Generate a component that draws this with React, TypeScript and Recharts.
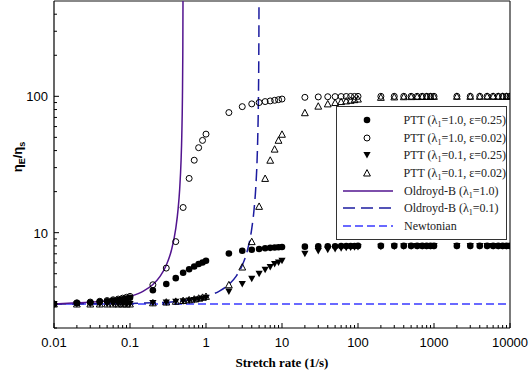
import {
  ComposedChart,
  Scatter,
  Line,
  XAxis,
  YAxis,
  ReferenceLine,
} from "recharts";

// stretch rates (1/s) where the PTT points sit
const rates = [
  0.01, 0.02, 0.03, 0.04, 0.05, 0.06, 0.07, 0.08, 0.09,
  0.1, 0.2, 0.3, 0.4, 0.5, 0.6, 0.7, 0.8, 0.9,
  1, 2, 3, 4, 5, 6, 7, 8, 9,
  10, 20, 30, 40, 50, 60, 70, 80, 90,
  100, 200, 300, 400, 500, 600, 700, 800, 900,
  1000, 2000, 3000, 4000, 5000, 6000, 7000, 8000, 9000,
  10000,
];

// PTT (λ1=1.0, ε=0.25) - filled circles
const pttA = [
  3.0, 3.05, 3.08, 3.11, 3.14, 3.18, 3.21, 3.25, 3.29,
  3.33, 3.78, 4.2, 4.64, 5.08, 5.4, 5.65, 5.89, 6.05,
  6.22, 7.04, 7.37, 7.5, 7.6, 7.68, 7.74, 7.78, 7.82,
  7.85, 7.9, 7.93, 7.95, 7.96, 7.97, 7.98, 7.98, 7.99,
  8.0, 8.0, 8.0, 8.0, 8.0, 8.0, 8.0, 8.0, 8.0,
  8.0, 8.0, 8.0, 8.0, 8.0, 8.0, 8.0, 8.0, 8.0,
  8.0,
];

// PTT (λ1=1.0, ε=0.02) - open circles
const pttB = [
  3.0, 3.06, 3.1, 3.14, 3.18, 3.22, 3.26, 3.31, 3.36,
  3.41, 4.15, 5.5, 8.6, 15.3, 25, 34, 42, 47.5,
  52.8, 76, 84, 88, 90, 91.5, 92.5, 93.5, 94.5,
  95.5, 98.3, 99, 99.3, 99.5, 99.6, 99.7, 99.8, 99.8,
  99.9, 100, 100, 100, 100, 100, 100, 100, 100,
  100, 100, 100, 100, 100, 100, 100, 100, 100,
  100,
];

// PTT (λ1=0.1, ε=0.25) - filled down triangles
const pttC = [
  3.0, 3.0, 3.0, 3.0, 3.0, 3.0, 3.0, 3.0, 3.0,
  3.0, 3.05, 3.08, 3.11, 3.14, 3.18, 3.21, 3.25, 3.29,
  3.33, 3.7, 4.2, 4.6, 5.0, 5.35, 5.6, 5.9, 6.05,
  6.22, 7.0, 7.35, 7.5, 7.6, 7.68, 7.74, 7.78, 7.82,
  7.85, 7.9, 7.93, 7.95, 7.96, 7.97, 7.98, 7.98, 7.99,
  8.0, 8.0, 8.0, 8.0, 8.0, 8.0, 8.0, 8.0, 8.0,
  8.0,
];

// PTT (λ1=0.1, ε=0.02) - open up triangles
const pttD = [
  3.0, 3.0, 3.0, 3.0, 3.0, 3.0, 3.0, 3.0, 3.0,
  3.0, 3.06, 3.1, 3.14, 3.18, 3.22, 3.26, 3.31, 3.36,
  3.41, 4.15, 5.6, 8.6, 15.6, 25, 34, 41, 47.6,
  52.7, 75.8, 84.7, 88, 90, 91.5, 92.5, 93.5, 94.5,
  95.5, 98.3, 99, 99.3, 99.5, 99.6, 99.7, 99.8, 99.8,
  99.9, 100, 100, 100, 100, 100, 100, 100, 100,
  100,
];

// Oldroyd-B (λ1=1.0) curve
const obAx = [0.01, 0.02, 0.05, 0.1, 0.15, 0.2, 0.25, 0.3, 0.35, 0.4, 0.43, 0.45, 0.47, 0.48, 0.49, 0.495, 0.498, 0.4995];
const obAy = [3.0, 3.06, 3.17, 3.41, 3.73, 4.17, 4.8, 5.77, 7.4, 10.7, 15, 20.7, 34, 51, 101, 200, 500, 2000];

// Oldroyd-B (λ1=0.1) curve
const obBx = [0.01, 0.1, 0.2, 0.5, 1, 1.5, 2, 2.5, 3, 3.5, 4, 4.3, 4.5, 4.7, 4.8, 4.9, 4.95, 4.98, 4.995];
const obBy = [3.0, 3.03, 3.06, 3.17, 3.41, 3.73, 4.17, 4.8, 5.77, 7.4, 10.7, 15, 20.7, 34, 51, 101, 200, 500, 2000];

// Newtonian
const newtX = [0.01, 10000];
const newtY = [3, 3];

const xMajor = [0.01, 0.1, 1, 10, 100, 1000, 10000];
const xTicks = rates;
const yMajor = [10, 100];
const yTicks = [2, 3, 4, 5, 6, 7, 8, 9, 10, 20, 30, 40, 50, 60, 70, 80, 90, 100, 200, 300, 400];

const zip = (xs: number[], ys: number[]) => xs.map((x, i) => ({ x, y: ys[i] }));

const PURPLE = "#52148f";
const NAVY = "#1c1ca0";
const BLUE = "#3838ff";
const SANS = "'Liberation Sans', Arial, sans-serif";
const SERIF = "'Liberation Serif', 'Times New Roman', serif";

const FilledCircle = ({ cx, cy }: any) => <circle cx={cx} cy={cy} r={3.3} fill="#000" />;
const OpenCircle = ({ cx, cy }: any) => (
  <circle cx={cx} cy={cy} r={3} fill="none" stroke="#000" strokeWidth={1} />
);
const DownTri = ({ cx, cy }: any) => (
  <path d={`M${cx - 3.6},${cy - 3} L${cx + 3.6},${cy - 3} L${cx},${cy + 3.5} Z`} fill="#000" />
);
const UpTri = ({ cx, cy }: any) => (
  <path
    d={`M${cx - 3.4},${cy + 3} L${cx + 3.4},${cy + 3} L${cx},${cy - 3.4} Z`}
    fill="none"
    stroke="#000"
    strokeWidth={1}
  />
);

const XTick = ({ x, y, payload }: any) => {
  const major = xMajor.includes(payload.value);
  return (
    <g>
      <line x1={x} x2={x} y1={y} y2={y - (major ? 5 : 3)} stroke="#000" />
      {major && (
        <text x={x} y={y + 19} textAnchor="middle" fontFamily={SANS} fontSize={13} fill="#000">
          {String(payload.value)}
        </text>
      )}
    </g>
  );
};

const YTick = ({ x, y, payload }: any) => {
  const major = yMajor.includes(payload.value);
  return (
    <g>
      <line x1={x} x2={x + (major ? 5 : 3)} y1={y} y2={y} stroke="#000" />
      {major && (
        <text x={x - 6} y={y + 5} textAnchor="end" fontFamily={SANS} fontSize={13} fill="#000">
          {String(payload.value)}
        </text>
      )}
    </g>
  );
};

const XTitle = ({ viewBox }: any) => (
  <text
    x={viewBox.x + viewBox.width / 2}
    y={367}
    textAnchor="middle"
    fontFamily={SERIF}
    fontWeight="bold"
    fontSize={13}
    fill="#000"
  >
    Stretch rate (1/s)
  </text>
);

const YTitle = () => (
  <text
    x={22}
    y={157}
    transform="rotate(-90 22 157)"
    textAnchor="middle"
    fontFamily={SANS}
    fontWeight="bold"
    fontSize={13}
    fill="#000"
  >
    η<tspan dy={3} fontSize={9}>E</tspan>
    <tspan dy={-3}>/η</tspan>
    <tspan dy={3} fontSize={9}>s</tspan>
  </text>
);

const legendRows = [
  { kind: "fc", label: ["PTT (λ", "1", "=1.0, ε=0.25)"] },
  { kind: "oc", label: ["PTT (λ", "1", "=1.0, ε=0.02)"] },
  { kind: "dt", label: ["PTT (λ", "1", "=0.1, ε=0.25)"] },
  { kind: "ut", label: ["PTT (λ", "1", "=0.1, ε=0.02)"] },
  { kind: "l1", label: ["Oldroyd-B (λ", "1", "=1.0)"] },
  { kind: "l2", label: ["Oldroyd-B (λ", "1", "=0.1)"] },
  { kind: "nw", label: ["Newtonian", "", ""] },
];

const LegendMark = ({ kind }: { kind: string }) => (
  <svg width={54} height={12} style={{ display: "block" }}>
    {kind === "fc" && <FilledCircle cx={26} cy={6} />}
    {kind === "oc" && <OpenCircle cx={26} cy={6} />}
    {kind === "dt" && <DownTri cx={26} cy={6} />}
    {kind === "ut" && <UpTri cx={26} cy={6} />}
    {kind === "l1" && <line x1={2} x2={52} y1={6} y2={6} stroke={PURPLE} strokeWidth={1.5} />}
    {kind === "l2" && (
      <line x1={2} x2={52} y1={6} y2={6} stroke={NAVY} strokeWidth={1.5} strokeDasharray="12 6" />
    )}
    {kind === "nw" && (
      <line x1={2} x2={52} y1={6} y2={6} stroke={BLUE} strokeWidth={1.5} strokeDasharray="8 4" />
    )}
  </svg>
);

export default function App() {
  return (
    <div style={{ position: "absolute", left: 0, top: 0, width: 531, height: 374, background: "#fff" }}>
      <ComposedChart width={531} height={374} margin={{ top: 1, right: 21, left: 0, bottom: 0 }}>
        <XAxis
          dataKey="x"
          type="number"
          scale="log"
          domain={[0.01, 10000]}
          allowDataOverflow
          ticks={xTicks}
          interval={0}
          tick={<XTick />}
          tickLine={false}
          tickSize={0}
          tickMargin={0}
          height={46}
          axisLine={{ stroke: "#000", strokeWidth: 1.2 }}
          label={<XTitle />}
        />
        <YAxis
          dataKey="y"
          type="number"
          scale="log"
          domain={[2, 500]}
          allowDataOverflow
          ticks={yTicks}
          interval={0}
          tick={<YTick />}
          tickLine={false}
          tickSize={0}
          tickMargin={0}
          width={54}
          axisLine={{ stroke: "#000", strokeWidth: 1.2 }}
          label={<YTitle />}
        />
        <ReferenceLine y={500} stroke="#888" strokeWidth={2} />
        <ReferenceLine x={10000} stroke="#222" strokeWidth={1.2} />

        <Scatter data={zip(rates, pttA)} shape={<FilledCircle />} isAnimationActive={false} />
        <Scatter data={zip(rates, pttB)} shape={<OpenCircle />} isAnimationActive={false} />
        <Scatter data={zip(rates, pttC)} shape={<DownTri />} isAnimationActive={false} />
        <Scatter data={zip(rates, pttD)} shape={<UpTri />} isAnimationActive={false} />

        <Line
          data={zip(newtX, newtY)}
          dataKey="y"
          type="linear"
          stroke={BLUE}
          strokeWidth={1.5}
          strokeDasharray="8 4"
          dot={false}
          isAnimationActive={false}
        />
        <Line
          data={zip(obBx, obBy)}
          dataKey="y"
          type="monotone"
          stroke={NAVY}
          strokeWidth={1.5}
          strokeDasharray="12 6"
          dot={false}
          isAnimationActive={false}
        />
        <Line
          data={zip(obAx, obAy)}
          dataKey="y"
          type="monotone"
          stroke={PURPLE}
          strokeWidth={1.5}
          dot={false}
          isAnimationActive={false}
        />
      </ComposedChart>

      <div
        style={{
          position: "absolute",
          left: 336,
          top: 106,
          width: 169,
          height: 128,
          border: "1.5px solid #333",
          background: "#fff",
          boxSizing: "content-box",
          paddingTop: 4,
          fontFamily: SERIF,
          fontSize: 12,
          color: "#222",
        }}
      >
        {legendRows.map((r) => (
          <div key={r.kind} style={{ display: "flex", alignItems: "center", height: 17.7 }}>
            <div style={{ marginLeft: 4, width: 63 }}>
              <LegendMark kind={r.kind} />
            </div>
            <span style={{ whiteSpace: "nowrap", lineHeight: "14px" }}>
              {r.label[0]}
              <sub style={{ fontSize: 8, lineHeight: 0 }}>{r.label[1]}</sub>
              {r.label[2]}
            </span>
          </div>
        ))}
      </div>
    </div>
  );
}
